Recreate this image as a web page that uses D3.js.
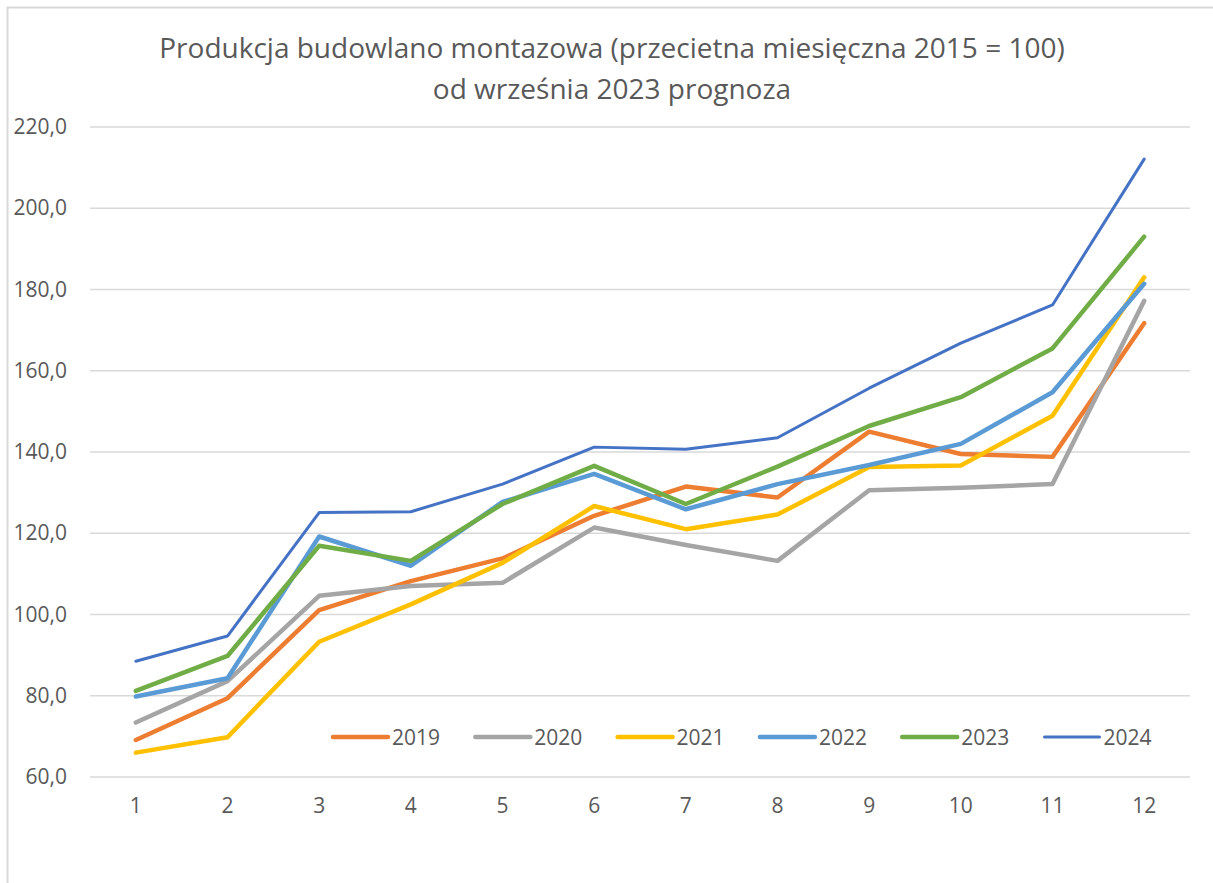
<!DOCTYPE html>
<html>
<head>
<meta charset="utf-8">
<title>Produkcja budowlano montazowa</title>
<script src="https://cdn.jsdelivr.net/npm/d3@7"></script>
<style>
  body { margin: 0; background: #fff; }
  text { font-family: "Open Sans", sans-serif; fill: #595959; }
</style>
</head>
<body>
<script>
// months on the x axis
var months = [1, 2, 3, 4, 5, 6, 7, 8, 9, 10, 11, 12];
var years = ["2019", "2020", "2021", "2022", "2023", "2024"];
var v2019 = [69.1, 79.4, 101.1, 108.2, 113.8, 124.3, 131.5, 128.8, 145.0, 139.5, 138.8, 171.7];
var v2020 = [73.4, 83.6, 104.6, 107.0, 107.8, 121.4, 117.1, 113.2, 130.6, 131.2, 132.1, 177.2];
var v2021 = [66.0, 69.8, 93.3, 102.5, 112.7, 126.7, 121.0, 124.6, 136.3, 136.7, 148.9, 183.0];
var v2022 = [79.8, 84.3, 119.2, 112.0, 127.7, 134.6, 125.9, 132.1, 136.8, 142.0, 154.7, 181.4];
var v2023 = [81.2, 89.8, 116.9, 113.2, 127.2, 136.6, 127.2, 136.4, 146.4, 153.5, 165.5, 193.0];
var v2024 = [88.5, 94.7, 125.1, 125.3, 132.1, 141.2, 140.7, 143.5, 155.7, 166.8, 176.2, 212.1];
var yTicks = [60, 80, 100, 120, 140, 160, 180, 200, 220];
var colors = ["#ED7D31", "#A5A5A5", "#FFC000", "#5B9BD5", "#70AD47", "#4472C4"];
var widths = [4.5, 4.5, 4.5, 4.5, 4.5, 3];

var series = [v2019, v2020, v2021, v2022, v2023, v2024];

var W = 1213, H = 883;
var plotL = 90, plotR = 1190, plotT = 127, plotB = 777;

var svg = d3.select("body").append("svg")
    .attr("width", W)
    .attr("height", H);

// chart frame (runs off the picture on right and bottom)
svg.append("rect")
    .attr("x", 7.5).attr("y", 7.5)
    .attr("width", 1240).attr("height", 920)
    .attr("fill", "none")
    .attr("stroke", "#D9D9D9")
    .attr("stroke-width", 2);

var x = d3.scaleBand().domain(months).range([plotL, plotR]);
var y = d3.scaleLinear().domain([60, 220]).range([plotB, plotT]);

// gridlines
svg.append("g")
    .selectAll("line")
    .data(yTicks)
    .enter().append("line")
    .attr("x1", plotL).attr("x2", plotR)
    .attr("y1", function(d){ return y(d); })
    .attr("y2", function(d){ return y(d); })
    .attr("stroke", "#D9D9D9")
    .attr("stroke-width", 1.5);

// y axis labels
var yAxis = d3.axisLeft(y).tickValues(yTicks)
    .tickSize(0).tickPadding(23)
    .tickFormat(function(d){ return d3.format(".1f")(d).replace(".", ","); });
var gy = svg.append("g").attr("transform", "translate(" + plotL + ",0)").call(yAxis);
gy.select(".domain").remove();
gy.selectAll("text").style("font-size", "21px").style("font-family", "'Open Sans', sans-serif").attr("fill", "#595959");

// x axis labels
var xAxis = d3.axisBottom(x).tickSize(0).tickPadding(21);
var gx = svg.append("g").attr("transform", "translate(0," + plotB + ")").call(xAxis);
gx.select(".domain").remove();
gx.selectAll("text").style("font-size", "21px").style("font-family", "'Open Sans', sans-serif").attr("fill", "#595959");

// lines
var line = d3.line()
    .x(function(d, i){ return x(months[i]) + x.bandwidth() / 2; })
    .y(function(d){ return y(d); });

svg.append("g")
    .selectAll("path")
    .data(series)
    .enter().append("path")
    .attr("d", function(d){ return line(d); })
    .attr("fill", "none")
    .attr("stroke", function(d, i){ return colors[i]; })
    .attr("stroke-width", function(d, i){ return widths[i]; })
    .attr("stroke-linejoin", "round")
    .attr("stroke-linecap", "round");

// title
var title = svg.append("text")
    .attr("x", 612).attr("y", 58)
    .attr("text-anchor", "middle")
    .style("font-size", "28px");
title.append("tspan").attr("x", 612).text("Produkcja budowlano montazowa (przecietna miesięczna 2015 = 100)");
title.append("tspan").attr("x", 612).attr("dy", 41).text("od września 2023 prognoza");

// legend
var legend = svg.append("g")
    .selectAll("g")
    .data(years)
    .enter().append("g")
    .attr("transform", function(d, i){ return "translate(" + (333 + i * 142.3) + ",737)"; });
legend.append("line")
    .attr("x1", 0).attr("x2", 55)
    .attr("stroke", function(d, i){ return colors[i]; })
    .attr("stroke-width", function(d, i){ return widths[i]; })
    .attr("stroke-linecap", "round");
legend.append("text")
    .attr("x", 59).attr("y", 7.5)
    .style("font-size", "21px")
    .text(function(d){ return d; });
</script>
</body>
</html>
